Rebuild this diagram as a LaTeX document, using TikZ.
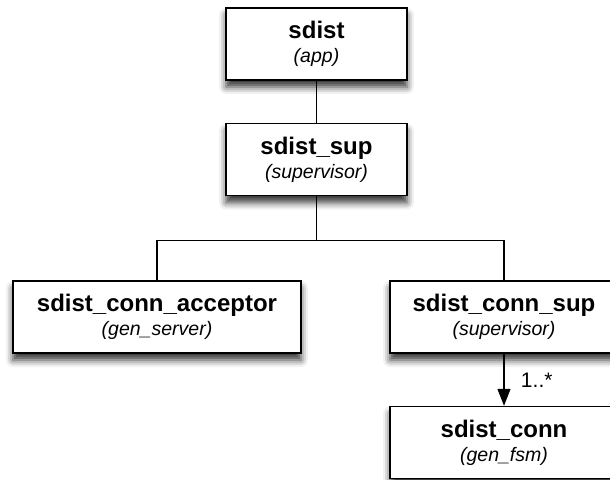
\documentclass[tikz,border=0pt]{standalone}
\usepackage{fontspec}
\setmainfont{Liberation Sans}
\usepackage{tikz}
\usetikzlibrary{arrows.meta,positioning,calc,shadows.blur}
\newcommand{\boxtext}[2]{{\fontsize{24}{28}\selectfont\bfseries #1}\\[1pt]{\itshape #2}}

\begin{document}
\begin{tikzpicture}[every node/.style={font=\fontsize{19.5}{23}\selectfont},
  box/.style={draw, line width=1.6pt, fill=white, minimum height=72pt, align=center, inner sep=0pt,
    blur shadow={shadow xshift=0pt, shadow yshift=-7pt, shadow blur radius=7pt, shadow opacity=80}},
  wire/.style={line width=1.3pt},
  arr/.style={-{Triangle[length=17pt,width=13pt]}, line width=1.3pt}]
\useasboundingbox (0,0) rectangle (610pt,-479pt);
\clip (0,0) rectangle (610pt,-479pt);
\node[box, minimum width=181pt] (sdist) at (316.5pt,-44pt) {\boxtext{sdist}{(app)}};
\node[box, minimum width=181pt, below=42pt of sdist] (sup) {\boxtext{sdist\_sup}{(supervisor)}};
\node[box, minimum width=288pt] (acceptor) at (157pt,-317pt) {\boxtext{sdist\_conn\_acceptor}{(gen\_server)}};
\node[box, minimum width=228pt] (connsup) at (504pt,-317pt) {\boxtext{sdist\_conn\_sup}{(supervisor)}};
\node[box, minimum width=228pt, below=52pt of connsup] (conn) {\boxtext{sdist\_conn}{(gen\_fsm)}};
\coordinate (bus) at ($(sup.south)+(0,-44pt)$);
\draw[wire] (sdist) -- (sup);
\draw[wire] (sup.south) -- (bus);
\draw[wire] (acceptor.north) |- (bus) -| (connsup.north);
\draw[arr] (connsup) -- node[right=13pt, font=\fontsize{21}{24}\selectfont]{1..*} (conn);
\end{tikzpicture}
\end{document}
